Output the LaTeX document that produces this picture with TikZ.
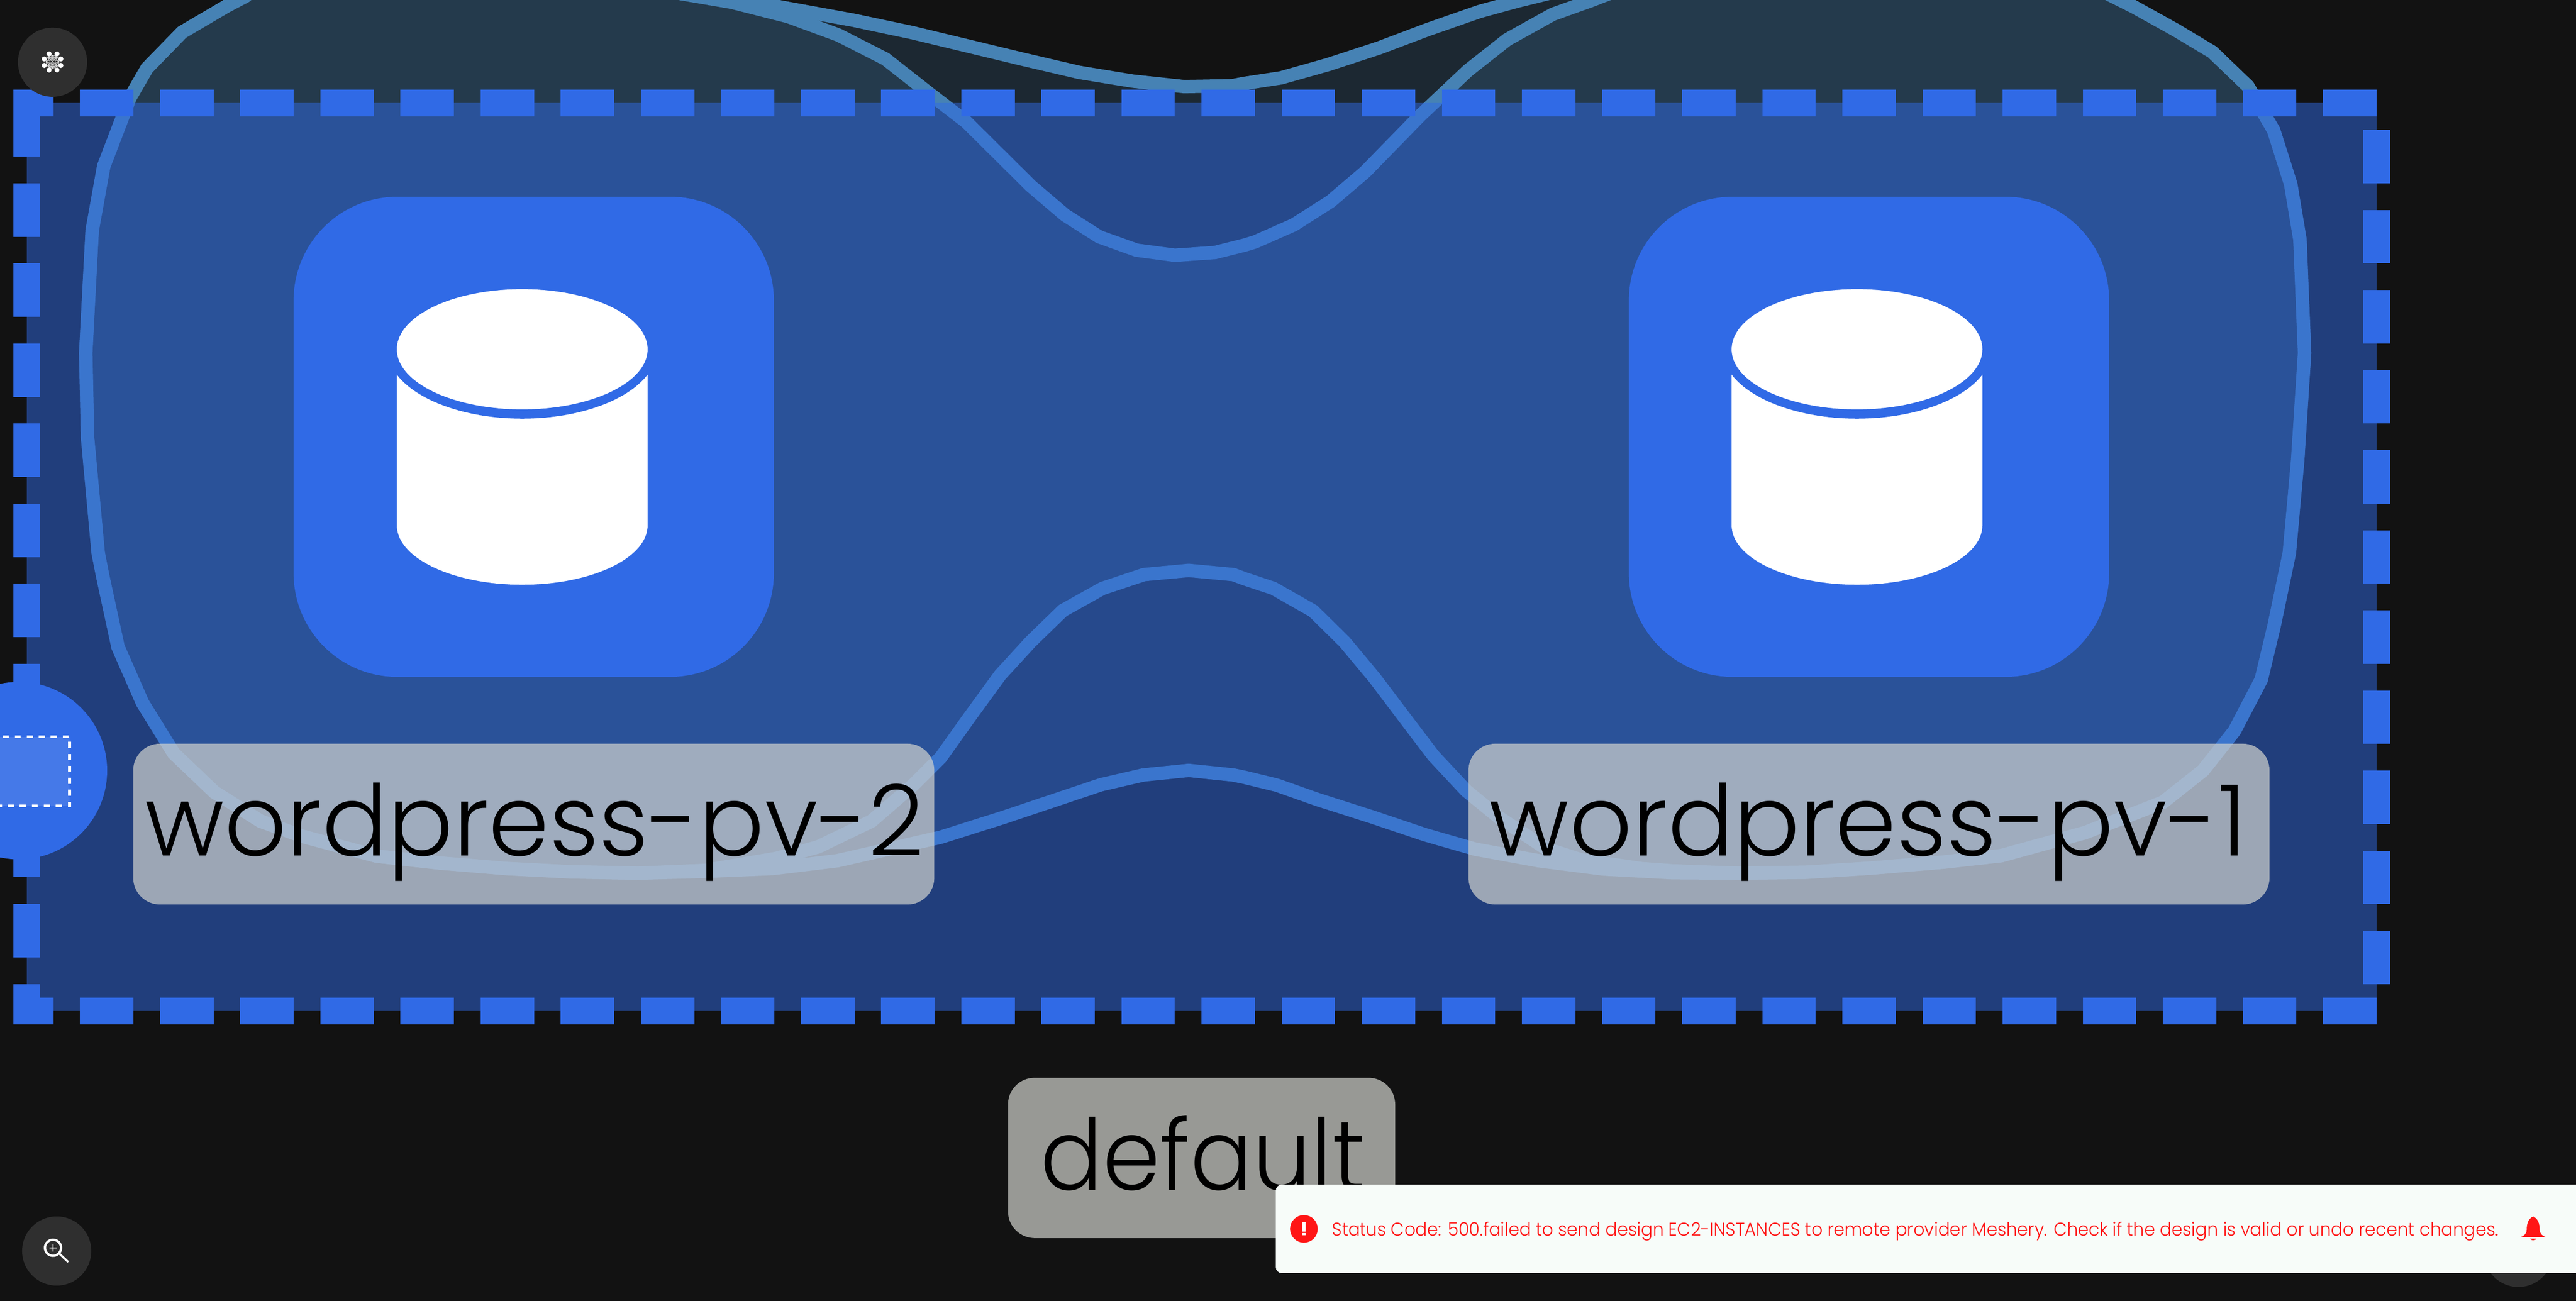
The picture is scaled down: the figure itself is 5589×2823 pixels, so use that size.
\documentclass[tikz,border=0pt]{standalone}
\usepackage{graphicx}
\usepackage{fontspec}
\newfontfamily\lblfont[UprightFont=* Light]{Poppins}
\definecolor{bgc}{HTML}{121212}
\definecolor{meshblue}{HTML}{306AE6}
\definecolor{steel}{HTML}{4682B4}
\definecolor{labelc}{HTML}{D1D3CE}
\definecolor{btn}{HTML}{2F2F2F}
\definecolor{toastc}{HTML}{F7FCF9}
\definecolor{errred}{HTML}{FF1616}
\tikzset{
  bubble/.style={draw=steel,line width=29pt,fill=steel,fill opacity=.2,draw opacity=1},
  edgedash/.style={draw=meshblue,line width=58pt,dash pattern=on 115.9pt off 57.9pt},
  nodebox/.style={fill=meshblue,rounded corners=225pt,minimum size=1042pt,inner sep=0pt},
  labelbox/.style={fill=labelc,fill opacity=.7,rounded corners=58pt,inner sep=0pt},
  labeltext/.style={anchor=base,inner sep=0pt,text=black,font=\lblfont\fontsize{214}{214}\selectfont},
  roundbtn/.style={circle,fill=btn,minimum size=150pt,inner sep=0pt},
}
% shared parts of the two outlines
\def\leftblob{ -- (1236,1892) -- (1099,1885) -- (954,1873) -- (817,1858) -- (656,1815) -- (565,1782) -- (465,1719) -- (377,1635) -- (309,1525) -- (256,1404) -- (223,1251) -- (213,1200) -- (190,950) -- (186,766) -- (200,500) -- (225,361) -- (282,212) -- (319,148) -- (395,70) -- (492,13) -- (532,-8) -- (620,-80)}
\def\rightblob{ -- (4560,-20) -- (4630,15) -- (4720,65) -- (4800,113) -- (4877,187) -- (4933,283) -- (4970,400) -- (4990,520) -- (5000,766) -- (4985,1000) -- (4967,1200) -- (4934,1358) -- (4906,1475) -- (4848,1586) -- (4780,1672) -- (4693,1741) -- (4524,1807) -- (4342,1857) -- (4217,1871) -- (4060,1884) -- (3919,1893) -- (3770,1895)}
\newcommand{\cylinderat}[2]{%
  \begin{scope}[shift={(#1,#2)}]
    \fill[white] (-272,-190) -- (-272,192) arc[start angle=180,end angle=360,x radius=272pt,y radius=129pt] -- (272,-190) -- cycle;
    \fill[meshblue] (0,-190) ellipse [x radius=292pt,y radius=150.5pt];
    \fill[meshblue] (-292,-250) rectangle (292,-190);
    \fill[white] (0,-190) ellipse [x radius=272pt,y radius=130.5pt];
  \end{scope}}
\begin{document}
\begin{tikzpicture}[x=1pt,y=-1pt]
\useasboundingbox (0,0) rectangle (5589,2823);
\clip (0,0) rectangle (5589,2823);
\fill[bgc] (0,0) rectangle (5589,2823);

% bubble outlines
\draw[bubble] (1385,1895) -- (1385,1895)\leftblob -- (1400,-50) -- (1550,-12) -- (1698,16) -- (1852,44) -- (1980,71) -- (2221,129) -- (2341,157) -- (2457,176) -- (2569,188) -- (2673,186) -- (2700,181) -- (2779,169) -- (2882,140) -- (2992,104) -- (3098,64) -- (3210,25) -- (3290,3) -- (3363,-15) -- (3450,-50) -- (3800,-100)\rightblob -- (3629,1890) -- (3560,1885) -- (3430,1866) -- (3355,1842) -- (3252,1774) -- (3181,1716) -- (3110,1640) -- (3047,1557) -- (2982,1471) -- (2917,1393) -- (2849,1326) -- (2763,1277) -- (2700,1256) -- (2676,1247) -- (2579,1238) -- (2482,1247) -- (2392,1277) -- (2306,1325) -- (2236,1393) -- (2170,1465) -- (2103,1557) -- (2041,1644) -- (1982,1703) -- (1891,1782) -- (1775,1838) -- (1684,1863) -- (1530,1889) -- cycle;
\draw[bubble] (1385,1895) -- (1385,1895)\leftblob -- (1300,-60) -- (1476,-14) -- (1588,5) -- (1710,36) -- (1819,76) -- (1921,128) -- (2014,201) -- (2097,265) -- (2237,404) -- (2311,467) -- (2385,514) -- (2466,543) -- (2549,554) -- (2636,548) -- (2700,532) -- (2723,525) -- (2807,488) -- (2887,437) -- (2962,373) -- (3081,251) -- (3185,153) -- (3270,86) -- (3369,31) -- (3450,2) -- (3520,-25) -- (3800,-100)\rightblob -- (3629,1894) -- (3479,1886) -- (3338,1868) -- (3201,1843) -- (3093,1812) -- (2974,1772) -- (2858,1735) -- (2770,1704) -- (2700,1687) -- (2676,1682) -- (2579,1672) -- (2480,1682) -- (2389,1703) -- (2177,1774) -- (2041,1817) -- (1817,1868) -- (1676,1885) -- (1530,1891) -- cycle;

% namespace rectangle
\fill[meshblue,opacity=.5] (58,224) rectangle (5156,2194);
\draw[edgedash,dash phase=29pt] (29,224) -- (5156,224);
\draw[edgedash,dash phase=29pt] (29,2194) -- (5156,2194);
\draw[edgedash] (58,224) -- (58,2194);
\draw[edgedash] (5156,282) -- (5156,2136);

% volumes
\node[nodebox] (pvtwo) at (1158,948) {};
\node[nodebox] (pvone) at (4055,948) {};
\cylinderat{1133}{948}
\cylinderat{4029}{948}

% labels
\node[labelbox,minimum width=1738pt,minimum height=349pt] (pvtwobox) at (1158,1788.5) {};
\node[labelbox,minimum width=1738pt,minimum height=349pt] (pvonebox) at (4055,1788.5) {};
\node[labelbox,minimum width=840pt,minimum height=348pt] (defaultbox) at (2607,2513) {};
\node[labeltext] (pvtwotext) at (1160,1857) {\resizebox{1690pt}{\height}{wordpress-pv-2}};
\node[labeltext] (pvonetext) at (4053,1857) {\resizebox{1643pt}{\height}{wordpress-pv-1}};
\node[labeltext] (defaulttext) at (2609.5,2583) {\resizebox{705pt}{\height}{default}};

% handle on the left edge
\node[circle,fill=meshblue,minimum size=385pt,inner sep=0pt] (handle) at (40,1672.5) {};
\draw[white,line width=6pt,dash pattern=on 13pt off 13pt,fill=white,fill opacity=.1,draw opacity=1] (-20,1599) -- (151,1599) -- (151,1749) -- (-20,1749);

% top-left button with logo
\node[roundbtn] (logobtn) at (114,135) {};
\foreach \px/\py in {106.5/117,123.7/117,96/128,132/128,96/142,132/142,106.5/152,123.7/152}
  \fill[white] (\px,\py) circle (5.5pt);
\draw[white!85!black,line width=1.3pt] (114,134) circle (14pt);
\foreach \a in {0,45,...,315}
  \foreach \b in {90,135,180}
    \draw[white!85!black,line width=.8pt] (114,134) ++(\a:14pt) -- ++(\a+\b/2+90:{2*14*sin(\b/2)*1pt});

% zoom button
\node[roundbtn] (zoombtn) at (123,2715) {};
\draw[white,line width=5pt] (115,2708) circle (17.5pt);
\draw[white,line width=4.5pt] (129,2721) -- (148,2739);
\draw[white,line width=2pt] (107,2708) -- (123,2708) (115,2700) -- (115,2716);

% hidden button and toast
\node[roundbtn] (hiddenbtn) at (5464,2718) {};
\fill[toastc,rounded corners=13pt] (2768,2571) rectangle (5640,2763);
\node[circle,fill=errred,minimum size=60pt,inner sep=0pt] (erricon) at (2829,2667) {};
\fill[white] (2825,2652) rectangle (2833,2673) (2825,2676) rectangle (2833,2681);
\node[anchor=base west,inner sep=0pt,text=errred,font=\lblfont\fontsize{40}{40}\selectfont] (toasttext) at (2890,2682) {\resizebox{2531pt}{\height}{Status Code: 500.failed to send design EC2-INSTANCES to remote provider Meshery. Check if the design is valid or undo recent changes.}};
\fill[errred] (5496,2640) .. controls (5486,2645) and (5482,2655) .. (5482,2668) .. controls (5482,2678) and (5476,2682) .. (5469,2685) -- (5523,2685) .. controls (5516,2682) and (5510,2678) .. (5510,2668) .. controls (5510,2655) and (5506,2645) .. (5496,2640) -- cycle;
\fill[errred] (5489,2688) -- (5503,2688) .. controls (5502,2693) and (5490,2693) .. (5489,2688) -- cycle;
\end{tikzpicture}
\end{document}
